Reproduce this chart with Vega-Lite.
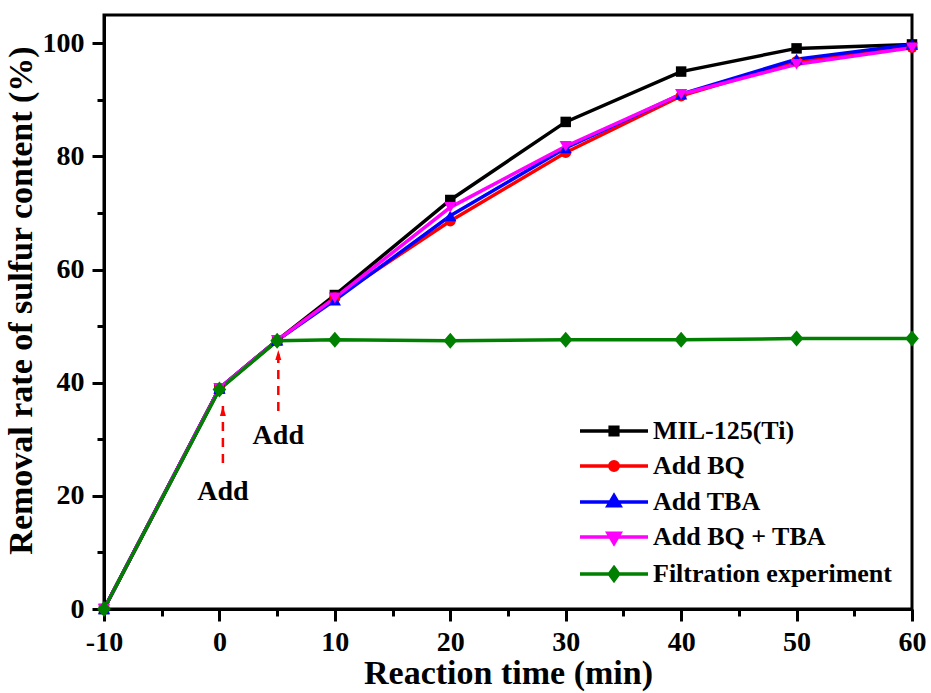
{
  "$schema": "https://vega.github.io/schema/vega-lite/v6.json",
  "width": 808,
  "height": 594,
  "autosize": {"type": "none"},
  "padding": {"left": 104, "top": 15, "right": 19, "bottom": 84},
  "background": "white",
  "config": {
    "view": {"stroke": "black", "strokeWidth": 3},
    "axis": {
      "grid": false,
      "domainColor": "black",
      "domainWidth": 3,
      "tickColor": "black",
      "tickWidth": 3,
      "labelFont": "Liberation Serif",
      "labelFontWeight": "bold",
      "labelFontSize": 28,
      "labelColor": "black",
      "titleFont": "Liberation Serif",
      "titleFontWeight": "bold",
      "titleFontSize": 34,
      "titleColor": "black"
    },
    "legend": {
      "labelFont": "Liberation Serif",
      "labelFontWeight": "bold",
      "labelFontSize": 26,
      "labelColor": "black",
      "labelLimit": 400
    }
  },
  "datasets": {
    "series": [
      {"series": "MIL-125(Ti)", "time": -10, "rate": 0},
      {"series": "MIL-125(Ti)", "time": 0, "rate": 39},
      {"series": "MIL-125(Ti)", "time": 5, "rate": 47.5},
      {"series": "MIL-125(Ti)", "time": 10, "rate": 55.5},
      {"series": "MIL-125(Ti)", "time": 20, "rate": 72.3},
      {"series": "MIL-125(Ti)", "time": 30, "rate": 86.1},
      {"series": "MIL-125(Ti)", "time": 40, "rate": 95},
      {"series": "MIL-125(Ti)", "time": 50, "rate": 99.1},
      {"series": "MIL-125(Ti)", "time": 60, "rate": 99.8},
      {"series": "Add BQ", "time": -10, "rate": 0},
      {"series": "Add BQ", "time": 0, "rate": 39},
      {"series": "Add BQ", "time": 5, "rate": 47.5},
      {"series": "Add BQ", "time": 10, "rate": 55},
      {"series": "Add BQ", "time": 20, "rate": 68.6},
      {"series": "Add BQ", "time": 30, "rate": 80.7},
      {"series": "Add BQ", "time": 40, "rate": 90.7},
      {"series": "Add BQ", "time": 50, "rate": 96.8},
      {"series": "Add BQ", "time": 60, "rate": 99.3},
      {"series": "Add TBA", "time": -10, "rate": 0},
      {"series": "Add TBA", "time": 0, "rate": 39},
      {"series": "Add TBA", "time": 5, "rate": 47.5},
      {"series": "Add TBA", "time": 10, "rate": 54.6},
      {"series": "Add TBA", "time": 20, "rate": 69.5},
      {"series": "Add TBA", "time": 30, "rate": 81.5},
      {"series": "Add TBA", "time": 40, "rate": 91},
      {"series": "Add TBA", "time": 50, "rate": 97.2},
      {"series": "Add TBA", "time": 60, "rate": 99.8},
      {"series": "Add BQ + TBA", "time": -10, "rate": 0},
      {"series": "Add BQ + TBA", "time": 0, "rate": 39},
      {"series": "Add BQ + TBA", "time": 5, "rate": 47.5},
      {"series": "Add BQ + TBA", "time": 10, "rate": 55},
      {"series": "Add BQ + TBA", "time": 20, "rate": 71},
      {"series": "Add BQ + TBA", "time": 30, "rate": 81.8},
      {"series": "Add BQ + TBA", "time": 40, "rate": 91},
      {"series": "Add BQ + TBA", "time": 50, "rate": 96.3},
      {"series": "Add BQ + TBA", "time": 60, "rate": 99.2},
      {"series": "Filtration experiment", "time": -10, "rate": 0},
      {"series": "Filtration experiment", "time": 0, "rate": 38.8},
      {"series": "Filtration experiment", "time": 5, "rate": 47.4},
      {"series": "Filtration experiment", "time": 10, "rate": 47.6},
      {"series": "Filtration experiment", "time": 20, "rate": 47.4},
      {"series": "Filtration experiment", "time": 30, "rate": 47.6},
      {"series": "Filtration experiment", "time": 40, "rate": 47.6},
      {"series": "Filtration experiment", "time": 50, "rate": 47.8},
      {"series": "Filtration experiment", "time": 60, "rate": 47.8}
    ],
    "notes": [
      {"time": 0.3, "low": 25.8, "high": 35.9, "textY": 20.7, "label": "Add"},
      {"time": 5.1, "low": 35, "high": 45.8, "textY": 30.6, "label": "Add"}
    ]
  },
  "layer": [
    {
      "data": {"name": "notes"},
      "mark": {"type": "rule", "color": "red", "strokeWidth": 2.5, "strokeDash": [9, 7]},
      "encoding": {
        "x": {"field": "time", "type": "quantitative"},
        "y": {"field": "low", "type": "quantitative"},
        "y2": {"field": "high"}
      }
    },
    {
      "data": {"name": "notes"},
      "mark": {"type": "point", "filled": true, "color": "red", "opacity": 1, "shape": "M0,0L0.6,2L-0.6,2Z", "size": 100},
      "encoding": {
        "x": {"field": "time", "type": "quantitative"},
        "y": {"field": "high", "type": "quantitative"}
      }
    },
    {
      "data": {"name": "notes"},
      "mark": {"type": "text", "font": "Liberation Serif", "fontWeight": "bold", "fontSize": 28, "color": "black", "baseline": "middle"},
      "encoding": {
        "x": {"field": "time", "type": "quantitative"},
        "y": {"field": "textY", "type": "quantitative"},
        "text": {"field": "label"}
      }
    },
    {
      "data": {"name": "series"},
      "mark": {"type": "line", "strokeWidth": 3.5},
      "encoding": {
        "x": {
          "field": "time", "type": "quantitative",
          "scale": {"domain": [-10, 60], "nice": false, "zero": false},
          "axis": {
            "title": "Reaction time (min)",
            "values": [-10, -5, 0, 5, 10, 15, 20, 25, 30, 35, 40, 45, 50, 55, 60],
            "labelExpr": "datum.value % 10 === 0 ? replace(datum.label, '\u2212', '-') : ''",
            "tickSize": {"condition": {"test": "datum.value % 10 === 0", "value": 12}, "value": 7},
            "labelPadding": 7,
            "titlePadding": 0,
            "labelFlush": false
          }
        },
        "y": {
          "field": "rate", "type": "quantitative",
          "scale": {"domain": [0, 105], "nice": false},
          "axis": {
            "title": "Removal rate of sulfur content (%)",
            "values": [0, 10, 20, 30, 40, 50, 60, 70, 80, 90, 100],
            "labelExpr": "datum.value % 20 === 0 ? datum.label : ''",
            "tickSize": {"condition": {"test": "datum.value % 20 === 0", "value": 12}, "value": 7},
            "labelPadding": 8,
            "titlePadding": 4,
            "titleY": 285
          }
        },
        "color": {
          "field": "series", "type": "nominal",
          "scale": {
            "domain": ["MIL-125(Ti)", "Add BQ", "Add TBA", "Add BQ + TBA", "Filtration experiment"],
            "range": ["#000000", "#ff0000", "#0000ff", "#ff00ff", "#008000"]
          },
          "legend": {
            "title": null,
            "orient": "none",
            "legendX": 497,
            "legendY": 403,
            "symbolType": "M-4,0L4,0",
            "symbolSize": 289,
            "symbolStrokeWidth": 3.5,
            "labelOffset": 26,
            "rowPadding": 9,
            "encode": {
              "symbols": {
                "update": {
                  "shape": {"signal": "datum.value === 'MIL-125(Ti)' ? 'M-4,0L4,0M-0.45,-0.45L0.45,-0.45L0.45,0.45L-0.45,0.45Z' : datum.value === 'Add BQ' ? 'M-4,0L4,0M0.5,0A0.5,0.5 0 1,1 -0.5,0A0.5,0.5 0 1,1 0.5,0Z' : datum.value === 'Add TBA' ? 'M-4,0L4,0M0,-0.75L0.7,0.45L-0.7,0.45Z' : datum.value === 'Add BQ + TBA' ? 'M-4,0L4,0M0,0.75L0.7,-0.45L-0.7,-0.45Z' : 'M-4,0L4,0M0,-0.75L0.55,0L0,0.75L-0.55,0Z'"},
                  "size": {"value": 289},
                  "fill": {"scale": "color", "field": "value"},
                  "fillOpacity": {"value": 1},
                  "stroke": {"scale": "color", "field": "value"},
                  "strokeWidth": {"value": 3.5}
                }
              }
            }
          }
        }
      }
    },
    {
      "data": {"name": "series"},
      "mark": {"type": "point", "filled": true, "opacity": 1},
      "encoding": {
        "x": {"field": "time", "type": "quantitative"},
        "y": {"field": "rate", "type": "quantitative"},
        "color": {"field": "series", "type": "nominal", "legend": null},
        "shape": {
          "condition": [
            {"test": "datum.series === 'MIL-125(Ti)'", "value": "square"},
            {"test": "datum.series === 'Add BQ'", "value": "circle"},
            {"test": "datum.series === 'Add TBA'", "value": "triangle-up"},
            {"test": "datum.series === 'Add BQ + TBA'", "value": "triangle-down"}
          ],
          "value": "M0,-1L0.85,0L0,1L-0.85,0Z"
        },
        "size": {
          "condition": [
            {"test": "datum.series === 'MIL-125(Ti)'", "value": 110},
            {"test": "datum.series === 'Add BQ'", "value": 121},
            {"test": "datum.series === 'Add TBA'", "value": 150},
            {"test": "datum.series === 'Add BQ + TBA'", "value": 150}
          ],
          "value": 256
        }
      }
    }
  ]
}
